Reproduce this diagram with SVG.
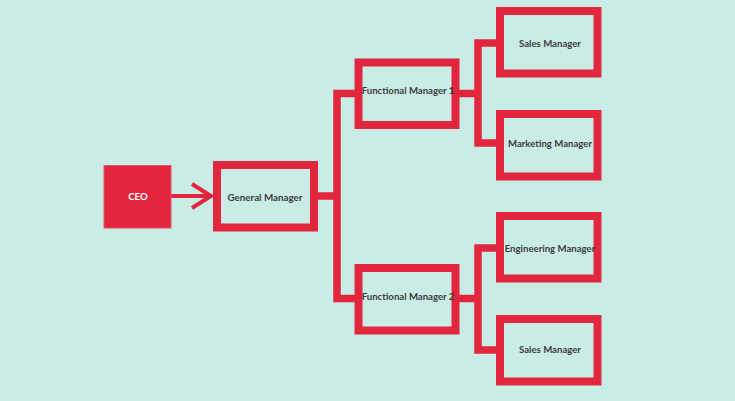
<svg xmlns="http://www.w3.org/2000/svg" width="735" height="401" viewBox="0 0 735 401">
<style>
.box{fill:none;stroke:#e2263d;stroke-width:8}
.con{fill:none;stroke:#e2263d;stroke-width:7.5;stroke-linejoin:miter}
.t{font-family:Lato,"Liberation Sans",sans-serif;font-weight:bold;font-size:9.6px;fill:#3d3d3d;text-anchor:middle;dominant-baseline:central}
</style>
<rect width="735" height="401" fill="#c9ece7"/>
<g id="connectors">
<path class="con" d="M318 196H337M357 93.5H337V298.5H357"/>
<path class="con" d="M459 93.5H478M500 43H478V143H500"/>
<path class="con" d="M459 298.5H478M500 248H478V350H500"/>
<path d="M171 196H211" fill="none" stroke="#e2263d" stroke-width="4"/>
<path d="M192 184L211 196L192 208" fill="none" stroke="#e2263d" stroke-width="4"/>
</g>
<g id="ceo">
<rect x="104" y="165.5" width="67" height="62.5" fill="#e2263d" stroke="#e85566" stroke-width="1"/>
<text class="t" x="138" y="196.5" style="fill:#ffffff">CEO</text>
</g>
<g id="gm">
<rect class="box" x="217" y="165" width="97" height="62.5"/>
<text class="t" x="265" y="197" style="font-size:9.8px">General Manager</text>
</g>
<g id="fm1">
<rect class="box" x="358.5" y="62.5" width="97" height="62.5"/>
<text class="t" x="408" y="90">Functional Manager 1</text>
</g>
<g id="fm2">
<rect class="box" x="358.5" y="268" width="97" height="62.5"/>
<text class="t" x="408" y="296">Functional Manager 2</text>
</g>
<g id="sales1">
<rect class="box" x="500" y="11" width="97.5" height="62.5"/>
<text class="t" x="550" y="43">Sales Manager</text>
</g>
<g id="marketing">
<rect class="box" x="500" y="114" width="97.5" height="62.5"/>
<text class="t" x="550" y="143">Marketing Manager</text>
</g>
<g id="engineering">
<rect class="box" x="500" y="216" width="97.5" height="62.5"/>
<text class="t" x="550" y="248">Engineering Manager</text>
</g>
<g id="sales2">
<rect class="box" x="500" y="319" width="97.5" height="62.5"/>
<text class="t" x="550" y="349">Sales Manager</text>
</g>
</svg>
